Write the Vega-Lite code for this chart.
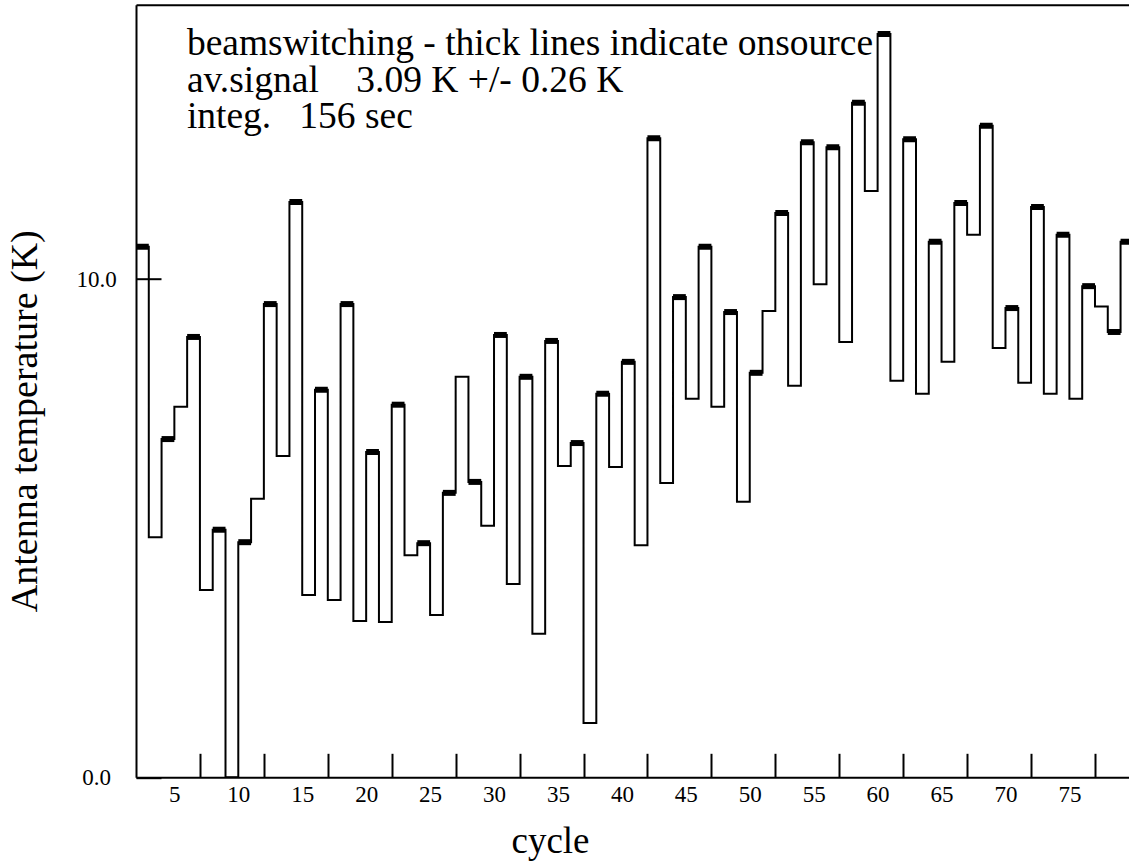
{
  "$schema": "https://vega.github.io/schema/vega-lite/v6.json",
  "width": 993,
  "height": 772.6,
  "autosize": {"type": "none"},
  "padding": {"left": 136, "top": 4.7, "right": 0, "bottom": 89.7},
  "background": "white",
  "config": {
    "view": {"stroke": null},
    "font": "Liberation Serif",
    "axis": {
      "domainColor": "black", "domainWidth": 2, "tickColor": "black", "tickWidth": 2,
      "labelColor": "black", "titleColor": "black", "labelFont": "Liberation Serif",
      "titleFont": "Liberation Serif", "labelFontSize": 23, "titleFontSize": 37,
      "titleFontWeight": "normal", "grid": false
    }
  },
  "data": {
    "values": [
      {"cycle": 2, "T": 10.65, "beam": "on"},
      {"cycle": 3, "T": 4.82, "beam": "off"},
      {"cycle": 4, "T": 6.79, "beam": "on"},
      {"cycle": 5, "T": 7.44, "beam": "off"},
      {"cycle": 6, "T": 8.84, "beam": "on"},
      {"cycle": 7, "T": 3.76, "beam": "off"},
      {"cycle": 8, "T": 4.97, "beam": "on"},
      {"cycle": 9, "T": 0.0, "beam": "off"},
      {"cycle": 10, "T": 4.72, "beam": "on"},
      {"cycle": 11, "T": 5.59, "beam": "off"},
      {"cycle": 12, "T": 9.5, "beam": "on"},
      {"cycle": 13, "T": 6.45, "beam": "off"},
      {"cycle": 14, "T": 11.55, "beam": "on"},
      {"cycle": 15, "T": 3.66, "beam": "off"},
      {"cycle": 16, "T": 7.78, "beam": "on"},
      {"cycle": 17, "T": 3.56, "beam": "off"},
      {"cycle": 18, "T": 9.5, "beam": "on"},
      {"cycle": 19, "T": 3.14, "beam": "off"},
      {"cycle": 20, "T": 6.53, "beam": "on"},
      {"cycle": 21, "T": 3.12, "beam": "off"},
      {"cycle": 22, "T": 7.48, "beam": "on"},
      {"cycle": 23, "T": 4.46, "beam": "off"},
      {"cycle": 24, "T": 4.7, "beam": "on"},
      {"cycle": 25, "T": 3.26, "beam": "off"},
      {"cycle": 26, "T": 5.71, "beam": "on"},
      {"cycle": 27, "T": 8.04, "beam": "off"},
      {"cycle": 28, "T": 5.93, "beam": "on"},
      {"cycle": 29, "T": 5.05, "beam": "off"},
      {"cycle": 30, "T": 8.88, "beam": "on"},
      {"cycle": 31, "T": 3.88, "beam": "off"},
      {"cycle": 32, "T": 8.04, "beam": "on"},
      {"cycle": 33, "T": 2.88, "beam": "off"},
      {"cycle": 34, "T": 8.76, "beam": "on"},
      {"cycle": 35, "T": 6.25, "beam": "off"},
      {"cycle": 36, "T": 6.71, "beam": "on"},
      {"cycle": 37, "T": 1.09, "beam": "off"},
      {"cycle": 38, "T": 7.7, "beam": "on"},
      {"cycle": 39, "T": 6.23, "beam": "off"},
      {"cycle": 40, "T": 8.34, "beam": "on"},
      {"cycle": 41, "T": 4.66, "beam": "off"},
      {"cycle": 42, "T": 12.83, "beam": "on"},
      {"cycle": 43, "T": 5.91, "beam": "off"},
      {"cycle": 44, "T": 9.64, "beam": "on"},
      {"cycle": 45, "T": 7.6, "beam": "off"},
      {"cycle": 46, "T": 10.65, "beam": "on"},
      {"cycle": 47, "T": 7.44, "beam": "off"},
      {"cycle": 48, "T": 9.34, "beam": "on"},
      {"cycle": 49, "T": 5.53, "beam": "off"},
      {"cycle": 50, "T": 8.12, "beam": "on"},
      {"cycle": 51, "T": 9.36, "beam": "off"},
      {"cycle": 52, "T": 11.33, "beam": "on"},
      {"cycle": 53, "T": 7.86, "beam": "off"},
      {"cycle": 54, "T": 12.75, "beam": "on"},
      {"cycle": 55, "T": 9.9, "beam": "off"},
      {"cycle": 56, "T": 12.65, "beam": "on"},
      {"cycle": 57, "T": 8.74, "beam": "off"},
      {"cycle": 58, "T": 13.54, "beam": "on"},
      {"cycle": 59, "T": 11.77, "beam": "off"},
      {"cycle": 60, "T": 14.92, "beam": "on"},
      {"cycle": 61, "T": 7.96, "beam": "off"},
      {"cycle": 62, "T": 12.81, "beam": "on"},
      {"cycle": 63, "T": 7.7, "beam": "off"},
      {"cycle": 64, "T": 10.75, "beam": "on"},
      {"cycle": 65, "T": 8.34, "beam": "off"},
      {"cycle": 66, "T": 11.53, "beam": "on"},
      {"cycle": 67, "T": 10.89, "beam": "off"},
      {"cycle": 68, "T": 13.08, "beam": "on"},
      {"cycle": 69, "T": 8.62, "beam": "off"},
      {"cycle": 70, "T": 9.42, "beam": "on"},
      {"cycle": 71, "T": 7.92, "beam": "off"},
      {"cycle": 72, "T": 11.45, "beam": "on"},
      {"cycle": 73, "T": 7.7, "beam": "off"},
      {"cycle": 74, "T": 10.89, "beam": "on"},
      {"cycle": 75, "T": 7.6, "beam": "off"},
      {"cycle": 76, "T": 9.86, "beam": "on"},
      {"cycle": 77, "T": 9.45, "beam": "off"},
      {"cycle": 78, "T": 8.94, "beam": "on"},
      {"cycle": 79, "T": 10.75, "beam": "on"},
      {"cycle": 80, "T": 10.75, "beam": "end"}
    ]
  },
  "resolve": {"axis": {"x": "independent", "y": "independent"}},
  "layer": [
    {
      "mark": {"type": "line", "interpolate": "step-after", "color": "black", "strokeWidth": 2, "clip": true},
      "encoding": {
        "x": {
          "field": "cycle", "type": "quantitative",
          "scale": {"domain": [2, 79.66], "nice": false, "zero": false},
          "axis": {
            "orient": "bottom",
            "values": [7, 12, 17, 22, 27, 32, 37, 42, 47, 52, 57, 62, 67, 72, 77],
            "tickSize": -24, "labelExpr": "datum.value - 2", "labelOffset": -25.57,
            "labelPadding": 30, "labelBaseline": "top", "labelFlush": false, "labelOverlap": false,
            "title": "cycle", "titleX": 414, "titleY": 75, "titleBaseline": "alphabetic", "titleAlign": "center", "titleAnchor": null
          }
        },
        "y": {
          "field": "T", "type": "quantitative",
          "scale": {"domain": [0, 15.51], "nice": false},
          "axis": {
            "orient": "left",
            "values": [0, 10], "format": ".1f", "tickSize": -25,
            "labelAlign": "center", "labelBaseline": "middle", "labelPadding": 65,
            "labelFlush": false, "labelOverlap": false,
            "title": "Antenna temperature (K)", "titleFontSize": 38, "titleX": -100, "titleY": 416,
            "titleAngle": -90, "titleBaseline": "alphabetic", "titleAlign": "center", "titleAnchor": null
          }
        }
      }
    },
    {
      "transform": [
        {"window": [{"op": "lead", "field": "cycle", "as": "next"}], "sort": [{"field": "cycle"}]},
        {"filter": "datum.beam == 'on'"}
      ],
      "mark": {"type": "rule", "color": "black", "strokeWidth": 6, "clip": true},
      "encoding": {
        "x": {"field": "cycle", "type": "quantitative", "axis": {"orient": "top", "ticks": false, "labels": false, "title": null, "domain": true}},
        "x2": {"field": "next"},
        "y": {"field": "T", "type": "quantitative", "axis": null}
      }
    },
    {
      "data": {"values": [{}]},
      "mark": {"type": "text", "align": "left", "baseline": "alphabetic", "fontSize": 37.5, "lineHeight": 36.5, "font": "Liberation Serif", "color": "black"},
      "encoding": {
        "x": {"datum": 5.98, "type": "quantitative", "axis": null},
        "y": {"datum": 14.5, "type": "quantitative", "axis": null},
        "text": {"value": ["beamswitching - thick lines indicate onsource", "av.signal\u00a0\u00a0\u00a0\u00a03.09 K +/- 0.26 K", "integ.\u00a0\u00a0\u00a0156 sec"]}
      }
    }
  ]
}
